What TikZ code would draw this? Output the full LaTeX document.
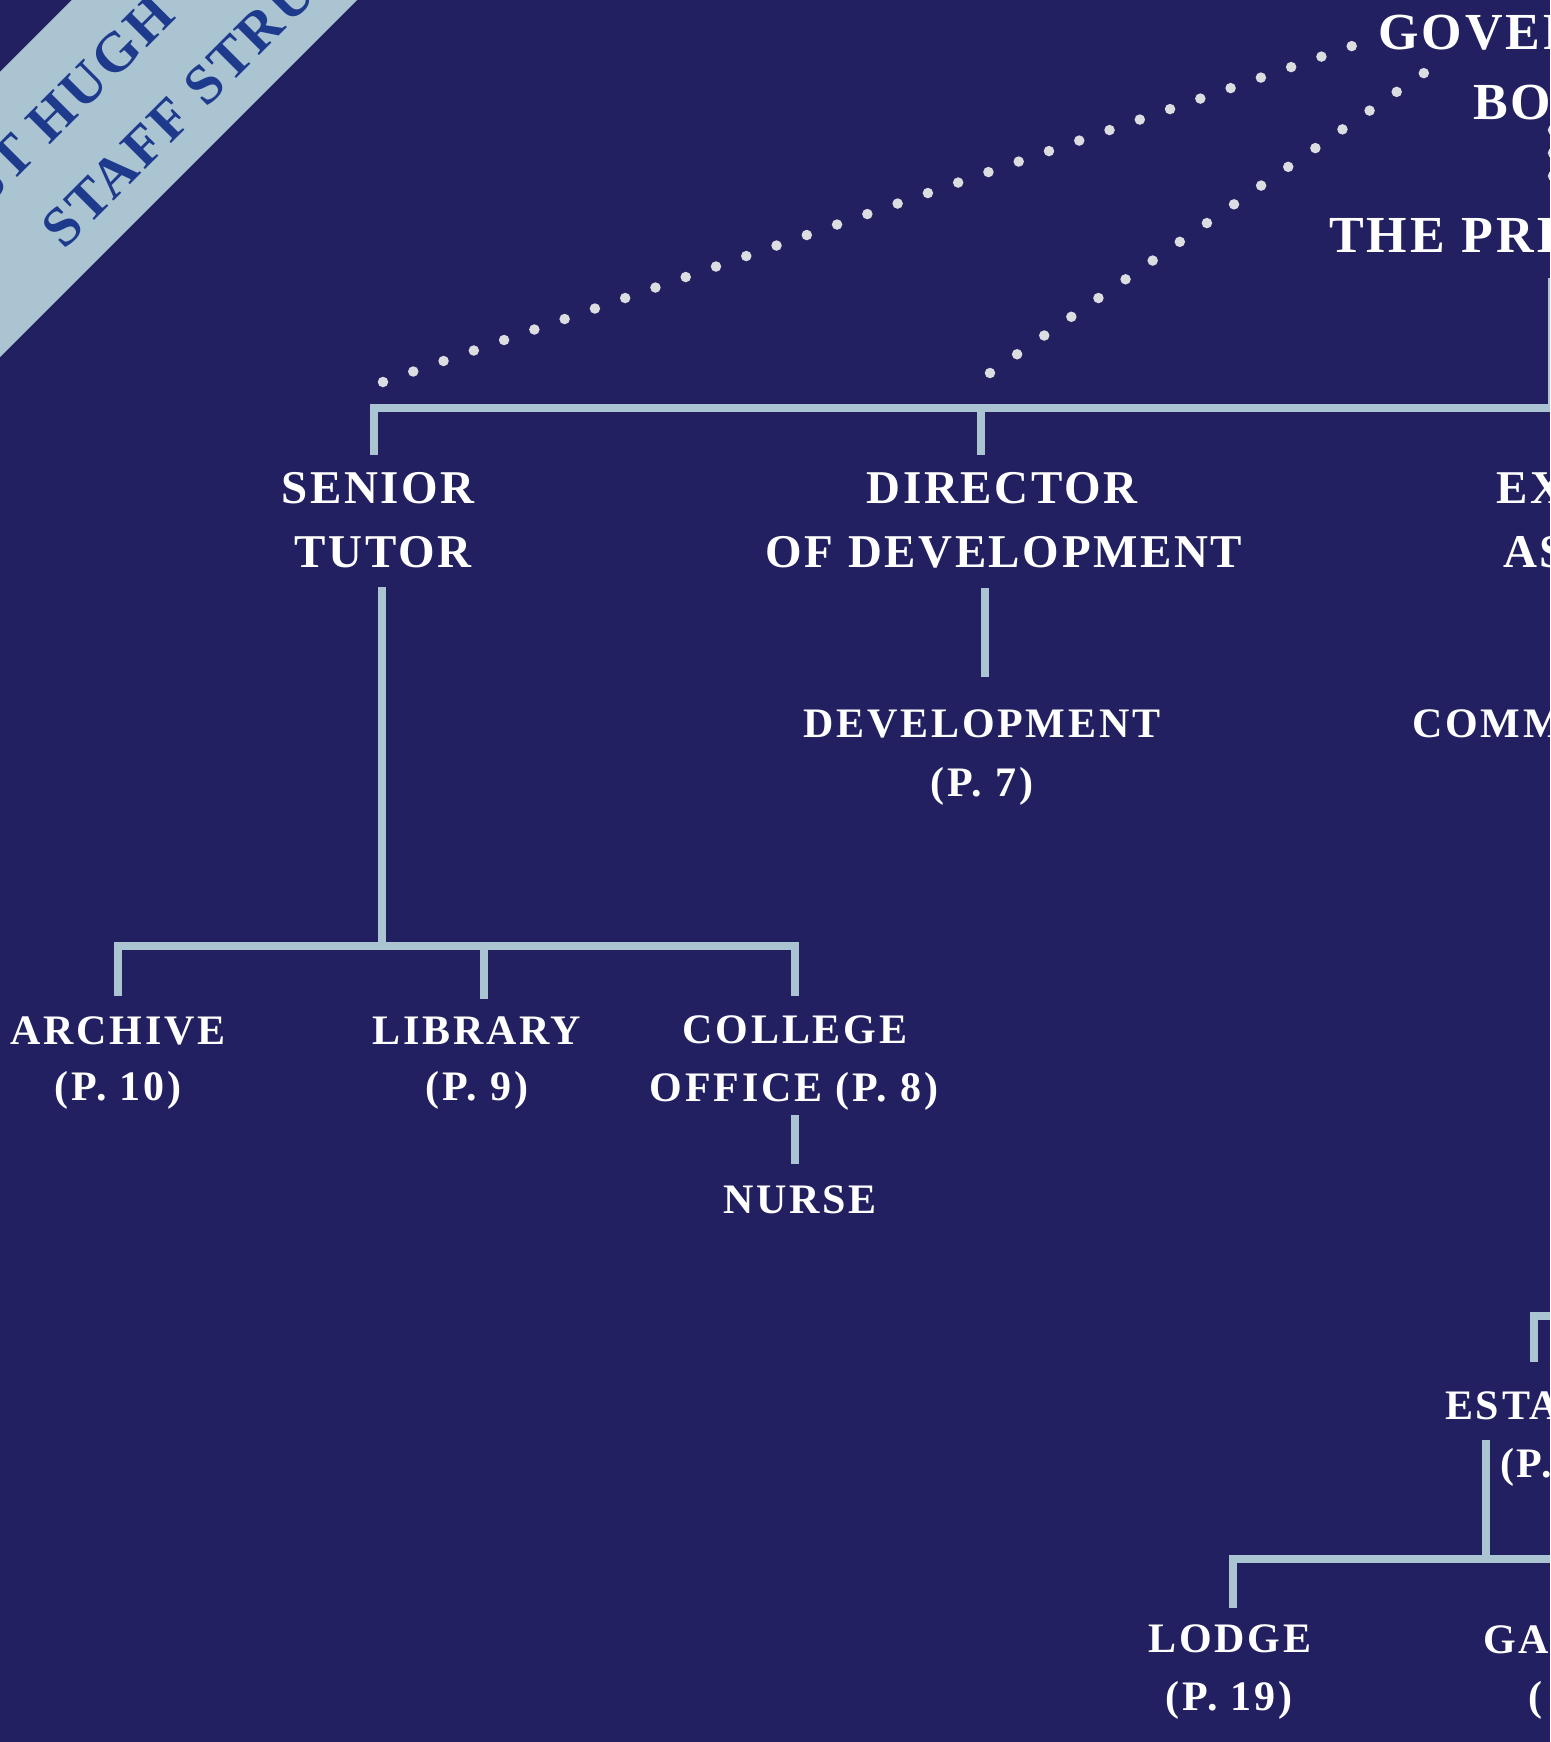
\documentclass[tikz,border=0pt]{standalone}
\usepackage{fontspec}
\setmainfont{Liberation Serif}
\newfontfamily\ttlfont{Liberation Serif}[LetterSpace=6]
\newfontfamily\labfont{Liberation Serif}[LetterSpace=5.5]
\newfontfamily\subfont{Liberation Serif}[LetterSpace=6.5]
\newfontfamily\banfont{Liberation Serif}[LetterSpace=5]
\definecolor{bg}{RGB}{35,32,97}
\definecolor{rulec}{RGB}{170,196,210}
\definecolor{bandc}{RGB}{170,196,210}
\definecolor{bantext}{RGB}{30,58,140}
\definecolor{dotc}{RGB}{220,221,225}
\begin{document}
\begin{tikzpicture}[x=1pt,y=-1pt,
  lvlA/.style={text=white,inner sep=0pt,font={\ttlfont\bfseries\fontsize{52}{60}\selectfont}},
  lvlB/.style={text=white,inner sep=0pt,font={\labfont\bfseries\fontsize{47}{56}\selectfont}},
  lvlC/.style={text=white,inner sep=0pt,font={\subfont\bfseries\fontsize{42}{50}\selectfont}},
  ban/.style={text=bantext,inner sep=0pt,rotate=45,anchor=base west,font={\banfont\bfseries\fontsize{56}{64}\selectfont}},
  tree/.style={draw=rulec,line width=7.5pt,line join=miter,line cap=butt},
  dots/.style={draw=dotc,line width=10.5pt,line cap=round,dash pattern=on 0pt off #1},
]
\useasboundingbox (0,0) rectangle (1550,1742);
\clip (0,0) rectangle (1550,1742);
\fill[bg] (0,0) rectangle (1550,1742);
% banner
\fill[bandc] (72,0) -- (357,0) -- (0,357) -- (0,72) -- cycle;
\node[ban] (ban1) at (-12.5,207.5) {ST HUGH’S COLLEGE};
\node[ban] (ban2) at (64,251) {STAFF STRUCTURE};
% top labels
\node[lvlA,anchor=base west] (gov) at (1378,50) {GOVERNING};
\node[lvlA,anchor=base west] (body) at (1473,120) {BODY};
\node[lvlA,anchor=base west] (prin) at (1329,252) {THE PRINCIPAL};
% second level
\node[lvlB,anchor=base] (st1) at (378,503) {SENIOR};
\node[lvlB,anchor=base] (st2) at (383,567) {TUTOR};
\node[lvlB,anchor=base] (dd1) at (1002,503) {DIRECTOR};
\node[lvlB,anchor=base] (dd2) at (1004,567) {OF DEVELOPMENT};
\node[lvlB,anchor=base west] (ea1) at (1496,503) {EXECUTIVE};
\node[lvlB,anchor=base west] (ea2) at (1503,567) {ASSISTANT};
% third level
\node[lvlC,anchor=base] (dev1) at (982,737) {DEVELOPMENT};
\node[lvlC,anchor=base] (dev2) at (982,796) {(P. 7)};
\node[lvlC,anchor=base west] (com) at (1412,737) {COMMUNICATIONS};
\node[lvlC,anchor=base] (arc1) at (118,1044) {ARCHIVE};
\node[lvlC,anchor=base] (arc2) at (118,1100) {(P. 10)};
\node[lvlC,anchor=base] (lib1) at (477,1044) {LIBRARY};
\node[lvlC,anchor=base] (lib2) at (477,1100) {(P. 9)};
\node[lvlC,anchor=base] (col1) at (795,1043) {COLLEGE};
\node[lvlC,anchor=base] (col2) at (794,1101) {OFFICE (P. 8)};
\node[lvlC,anchor=base] (nur) at (800,1213) {NURSE};
\node[lvlC,anchor=base west] (est1) at (1445,1419) {ESTATES};
\node[lvlC,anchor=base west] (est2) at (1500,1477) {(P.};
\node[lvlC,anchor=base] (lod1) at (1230,1652) {LODGE};
\node[lvlC,anchor=base] (lod2) at (1229,1710) {(P. 19)};
\node[lvlC,anchor=base west] (gar1) at (1483,1653) {GARDENS};
\node[lvlC,anchor=base west] (gar2) at (1528,1710) {(};
% dotted links
\coordinate (govL) at (1352,46);
\coordinate (stDot) at (383,382);
\coordinate (bodyL) at (1424,73);
\coordinate (ddDot) at (990,373);
\coordinate (bd1) at (1553,130);
\coordinate (bd2) at (1553,176);
\draw[dots=32.04pt] (stDot) -- (govL);
\draw[dots=32.96pt] (ddDot) -- (bodyL);
\draw[dots=22.99pt] (bd1) -- (bd2);
% tree coordinates
\coordinate (p0) at (1552,278);
\coordinate (p1) at (1552,408);
\coordinate (s0) at (374,408);
\coordinate (s1) at (374,455);
\coordinate (d0) at (981,408);
\coordinate (d1) at (981,455);
\coordinate (dv0) at (985,588);
\coordinate (dv1) at (985,677);
\coordinate (sv0) at (382,587);
\coordinate (sv1) at (382,946);
\coordinate (a0) at (118,946);
\coordinate (a1) at (118,996);
\coordinate (c0) at (795,946);
\coordinate (c1) at (795,996);
\coordinate (l0) at (484,946);
\coordinate (l1) at (484,999);
\coordinate (n0) at (795,1115);
\coordinate (n1) at (795,1164);
\coordinate (e0) at (1534,1362);
\coordinate (e1) at (1534,1316);
\coordinate (e2) at (1560,1316);
\coordinate (ev0) at (1486,1440);
\coordinate (ev1) at (1486,1559);
\coordinate (g0) at (1233,1608);
\coordinate (g1) at (1233,1559);
\coordinate (g2) at (1560,1559);
\draw[tree] (s1) -- (s0) -- (p1) -- (p0);
\draw[tree] (d0) -- (d1);
\draw[tree] (dv0) -- (dv1);
\draw[tree] (sv0) -- (sv1);
\draw[tree] (a1) -- (a0) -- (c0) -- (c1);
\draw[tree] (l0) -- (l1);
\draw[tree] (n0) -- (n1);
\draw[tree] (e0) -- (e1) -- (e2);
\draw[tree] (ev0) -- (ev1);
\draw[tree] (g0) -- (g1) -- (g2);
\end{tikzpicture}
\end{document}
